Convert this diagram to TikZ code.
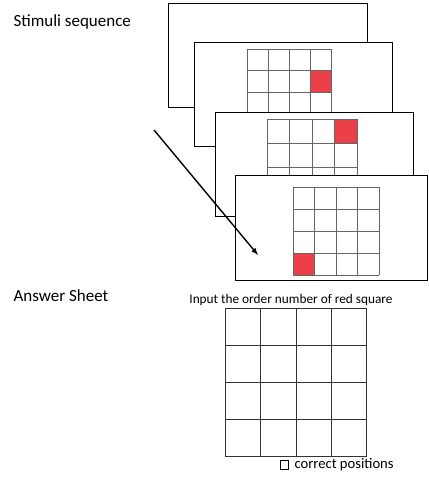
\documentclass[tikz,border=0pt]{standalone}
\usepackage{fontspec}
\setmainfont{Carlito}
\usetikzlibrary{positioning}
\definecolor{redcell}{RGB}{236,64,72}
\begin{document}
\begin{tikzpicture}[x=1pt,y=-1pt,every node/.style={font=\fontsize{17}{20}\selectfont},
  small/.style={font=\fontsize{13.3}{16}\selectfont},
  card/.style={draw=black,fill=white,line width=1pt},
  cell/.style={draw=black!60,line width=0.8pt},
  sheetcell/.style={draw=black!80,line width=1.6pt}]
\useasboundingbox (0,0) rectangle (428,478);
\node[anchor=west] (stimuli) at (10,22) {Stimuli sequence};
% empty first card
\draw[card] (168,4) rectangle (367,108);
% second card
\draw[card] (194,43) rectangle (392,147);
\fill[redcell] (310,70.5) rectangle ++(21,21.5);
\foreach \k in {0,...,4} {
  \draw[cell] (247+21*\k,49) -- ++(0,86);
  \draw[cell] (247,49+21.5*\k) -- ++(84,0);
}
% third card
\draw[card] (215,113) rectangle (413,216);
\fill[redcell] (334.5,119) rectangle ++(22.5,24);
\foreach \k in {0,...,4} {
  \draw[cell] (267+22.5*\k,119) -- ++(0,96);
  \draw[cell] (267,119+24*\k) -- ++(90,0);
}
% last card
\draw[card] (235,176) rectangle (427.5,280);
\fill[redcell] (293,253) rectangle ++(21.5,22);
\foreach \k in {0,...,4} {
  \draw[cell] (293+21.5*\k,187) -- ++(0,88);
  \draw[cell] (293,187+22*\k) -- ++(86,0);
}
% order of presentation
\coordinate (start) at (154,130);
\coordinate (stop) at (258,255);
\draw[-latex,line width=1.4pt] (start) -- (stop);

\node[anchor=west] (answer) at (10,296) {Answer Sheet};
\node[small] (input) at (291,300) {Input the order number of red square};
\foreach \x in {225.5,260.5,296.5,331.5,366.5}
  \draw[sheetcell] (\x,308) -- (\x,457);
\foreach \y in {308.5,345.5,382.5,419.5,456.5}
  \draw[sheetcell] (225,\y) -- (367,\y);
\node[draw,line width=0.6pt,minimum size=8.5pt,inner sep=0pt] (tick) at (284.5,465) {};
\node[font=\fontsize{14.6}{17}\selectfont,right=2pt of tick] (correct) {correct positions};
\end{tikzpicture}
\end{document}
